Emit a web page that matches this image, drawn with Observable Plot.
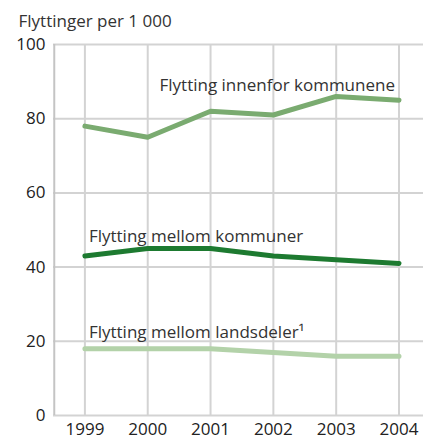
<!DOCTYPE html>
<html>
<head>
<meta charset="utf-8">
<script src="https://cdn.jsdelivr.net/npm/d3@7"></script>
<script src="https://cdn.jsdelivr.net/npm/@observablehq/plot@0.6"></script>
<style>
  html, body { margin: 0; padding: 0; background: #fff; }
  body { width: 423px; height: 440px; overflow: hidden; font-family: "Open Sans", sans-serif; }
  svg { display: block; overflow: visible; }
</style>
</head>
<body>
<div id="chart"></div>
<script>
const title = "Flyttinger per 1 000";
const years = [1999, 2000, 2001, 2002, 2003, 2004];
const innenforKommunene = [78, 75, 82, 81, 86, 85];
const mellomKommuner = [43, 45, 45, 43, 42, 41];
const mellomLandsdeler = [18, 18, 18, 17, 16, 16];
const yTicks = [0, 20, 40, 60, 80, 100];
const seriesNames = ["Flytting innenfor kommunene", "Flytting mellom kommuner", "Flytting mellom landsdeler¹"];
const seriesColors = ["#7aab70", "#1d7a30", "#b3d2a9"];

const seriesValues = [innenforKommunene, mellomKommuner, mellomLandsdeler];
const rows = seriesValues.flatMap((vals, s) =>
  vals.map((v, i) => ({ series: seriesNames[s], year: years[i], value: v })));

const xDomain = [1998.5, 2004.39];

const labelRows = [
  { text: seriesNames[0], year: years[5], value: innenforKommunene[5], anchor: "end", dx: -4, dy: -15 },
  { text: seriesNames[1], year: years[0], value: mellomKommuner[0], anchor: "start", dx: 4, dy: -19 },
  { text: seriesNames[2], year: years[0], value: mellomLandsdeler[0], anchor: "start", dx: 4, dy: -16 }
];

const grid = "#d3d3d3";
const chart = Plot.plot({
  width: 423,
  height: 440,
  marginTop: 44,
  marginBottom: 25,
  marginLeft: 53,
  marginRight: 0,
  style: { fontFamily: "Open Sans, sans-serif", fontSize: "17px", color: "#222", background: "#fff" },
  x: { domain: xDomain, axis: null },
  y: { domain: [0, 100], axis: null },
  color: { domain: seriesNames, range: seriesColors },
  marks: [
    Plot.ruleY(yTicks, { stroke: grid, strokeWidth: 2 }),
    Plot.ruleX(years, { y1: 0, y2: 100, stroke: grid, strokeWidth: 2 }),
    Plot.ruleX([xDomain[0]], { x: d => d + 0.012, y1: 0, y2: 100, stroke: "#c4c4c4", strokeWidth: 2 }),
    Plot.axisY(yTicks, { tickSize: 0, tickPadding: 8, fontSize: 17, fill: "#222", label: null }),
    Plot.axisX(years, { tickSize: 0, tickPadding: 7, fontSize: 17, fill: "#222", label: null, tickFormat: d => String(d) }),
    Plot.line(rows, { x: "year", y: "value", z: "series", stroke: "series", strokeWidth: 5, strokeLinejoin: "round", strokeLinecap: "round" }),
    ...labelRows.map(l => Plot.text([l], {
      x: "year", y: "value", text: "text", textAnchor: l.anchor, dx: l.dx, dy: l.dy,
      fontSize: 17, fill: "#333"
    })),
    Plot.text([title], { frameAnchor: "top-left", textAnchor: "start", lineAnchor: "middle", dx: -35, dy: -23, fontSize: 17, fill: "#333" })
  ]
});
document.getElementById("chart").appendChild(chart);
</script>
</body>
</html>
